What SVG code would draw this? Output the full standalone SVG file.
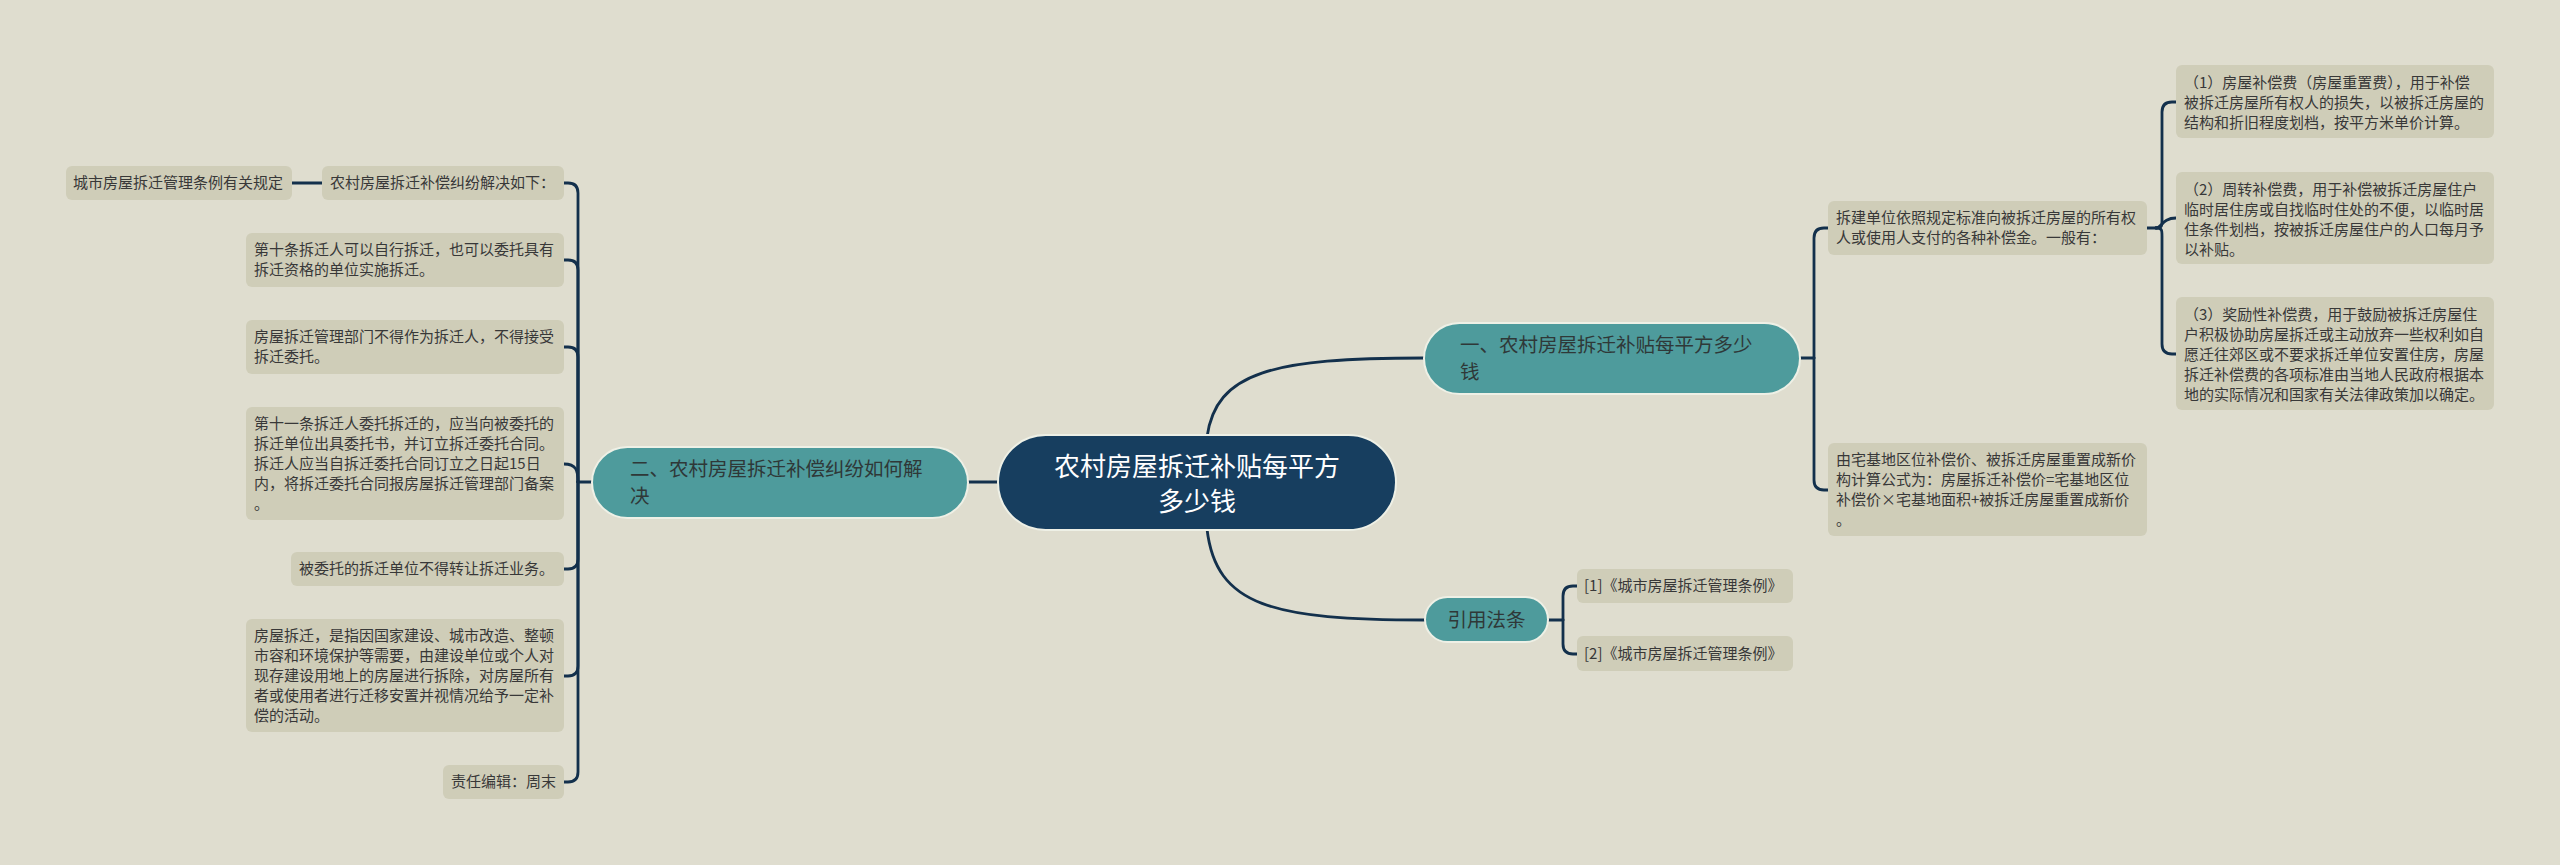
<svg xmlns="http://www.w3.org/2000/svg" width="2560" height="865" viewBox="0 0 2560 865">
<style>
.bg{fill:#dfddcf}
.leaf{fill:#cfcdb8}
.leaf-t{font-family:"Noto Sans CJK SC","Noto Sans",sans-serif;font-size:15px;fill:#383838}
.main{fill:#4e9b9c;stroke:#eef0e6;stroke-width:2}
.main-t{font-family:"Noto Sans CJK SC","Noto Sans",sans-serif;font-size:19.5px;fill:#2f3838}
.root{fill:#173e5f;stroke:#eef0e6;stroke-width:2}
.root-t{font-family:"Noto Sans CJK SC","Noto Sans",sans-serif;font-size:26px;fill:#ffffff;text-anchor:middle}
.ln{fill:none;stroke:#13304c;stroke-width:2.8;stroke-linecap:round}
</style>
<rect class="bg" x="0" y="0" width="2560" height="865"/>

<g id="connectors">
  <path class="ln" d="M 1207 437 C 1216 372, 1272 358, 1424 358"/>
  <path class="ln" d="M 1207 529 C 1216 606, 1272 620, 1425 620"/>
  <path class="ln" d="M 968 482 L 998 482"/>
  <path class="ln" d="M 592 482 L 578 482"/>
  <path class="ln" d="M 578 482 L 578 193 Q 578 183 568 183 L 564 183"/>
  <path class="ln" d="M 578 482 L 578 270 Q 578 260 568 260 L 564 260"/>
  <path class="ln" d="M 578 482 L 578 357 Q 578 347 568 347 L 564 347"/>
  <path class="ln" d="M 578 482 C 578 470, 576 464, 564 464"/>
  <path class="ln" d="M 578 482 L 578 559 Q 578 569 568 569 L 564 569"/>
  <path class="ln" d="M 578 482 L 578 666 Q 578 676 568 676 L 564 676"/>
  <path class="ln" d="M 578 482 L 578 772 Q 578 782 568 782 L 564 782"/>
  <path class="ln" d="M 292 183 L 322 183"/>
  <path class="ln" d="M 1800 358 L 1814 358"/>
  <path class="ln" d="M 1814 358 L 1814 238 Q 1814 228 1824 228 L 1828 228"/>
  <path class="ln" d="M 1814 358 L 1814 480 Q 1814 490 1824 490 L 1828 490"/>
  <path class="ln" d="M 2147 228 L 2156 228"/>
  <path class="ln" d="M 2156 228 C 2162 228, 2162 226, 2162 220 L 2162 112 Q 2162 102 2172 102 L 2176 102"/>
  <path class="ln" d="M 2156 228 C 2162 228, 2162 218, 2176 218"/>
  <path class="ln" d="M 2156 228 C 2162 228, 2162 230, 2162 236 L 2162 344 Q 2162 354 2172 354 L 2176 354"/>
  <path class="ln" d="M 1548 620 L 1563 620"/>
  <path class="ln" d="M 1563 620 L 1563 596 Q 1563 586 1573 586 L 1577 586"/>
  <path class="ln" d="M 1563 620 L 1563 644 Q 1563 654 1573 654 L 1577 654"/>
</g>

<g id="root">
  <rect class="root" x="998" y="435" width="398" height="95" rx="47.5"/>
  <text class="root-t" x="1197" y="476">农村房屋拆迁补贴每平方</text>
  <text class="root-t" x="1197" y="511">多少钱</text>
</g>

<g id="branch-left">
  <rect class="main" x="592" y="447" width="376" height="71" rx="35.5"/>
  <text class="main-t" x="630" y="476">二、农村房屋拆迁补偿纠纷如何解</text>
  <text class="main-t" x="630" y="503">决</text>
</g>

<g id="branch-right1">
  <rect class="main" x="1424" y="323" width="376" height="71" rx="35.5"/>
  <text class="main-t" x="1460" y="352">一、农村房屋拆迁补贴每平方多少</text>
  <text class="main-t" x="1460" y="379">钱</text>
</g>

<g id="branch-right2">
  <rect class="main" x="1425" y="597" width="123" height="45" rx="22.5"/>
  <text class="main-t" x="1486.5" y="627" text-anchor="middle">引用法条</text>
</g>

<g id="leaf-city-rule">
  <rect class="leaf" x="66" y="166" width="226" height="34" rx="6"/>
  <text class="leaf-t" x="73" y="188">城市房屋拆迁管理条例有关规定</text>
</g>
<g id="leaf-resolve">
  <rect class="leaf" x="322" y="166" width="242" height="34" rx="6"/>
  <text class="leaf-t" x="330" y="188">农村房屋拆迁补偿纠纷解决如下：</text>
</g>
<g id="leaf-art10">
  <rect class="leaf" x="246" y="233" width="318" height="54" rx="6"/>
  <text class="leaf-t" x="254" y="255">第十条拆迁人可以自行拆迁，也可以委托具有</text>
  <text class="leaf-t" x="254" y="275">拆迁资格的单位实施拆迁。</text>
</g>
<g id="leaf-dept">
  <rect class="leaf" x="246" y="320" width="318" height="54" rx="6"/>
  <text class="leaf-t" x="254" y="342">房屋拆迁管理部门不得作为拆迁人，不得接受</text>
  <text class="leaf-t" x="254" y="362">拆迁委托。</text>
</g>
<g id="leaf-art11">
  <rect class="leaf" x="246" y="407" width="318" height="113" rx="6"/>
  <text class="leaf-t" x="254" y="429">第十一条拆迁人委托拆迁的，应当向被委托的</text>
  <text class="leaf-t" x="254" y="449">拆迁单位出具委托书，并订立拆迁委托合同。</text>
  <text class="leaf-t" x="254" y="469">拆迁人应当自拆迁委托合同订立之日起15日</text>
  <text class="leaf-t" x="254" y="489">内，将拆迁委托合同报房屋拆迁管理部门备案</text>
  <text class="leaf-t" x="254" y="509">。</text>
</g>
<g id="leaf-transfer">
  <rect class="leaf" x="291" y="552" width="273" height="34" rx="6"/>
  <text class="leaf-t" x="299" y="574">被委托的拆迁单位不得转让拆迁业务。</text>
</g>
<g id="leaf-define">
  <rect class="leaf" x="246" y="619" width="318" height="113" rx="6"/>
  <text class="leaf-t" x="254" y="641">房屋拆迁，是指因国家建设、城市改造、整顿</text>
  <text class="leaf-t" x="254" y="661">市容和环境保护等需要，由建设单位或个人对</text>
  <text class="leaf-t" x="254" y="681">现存建设用地上的房屋进行拆除，对房屋所有</text>
  <text class="leaf-t" x="254" y="701">者或使用者进行迁移安置并视情况给予一定补</text>
  <text class="leaf-t" x="254" y="721">偿的活动。</text>
</g>
<g id="leaf-editor">
  <rect class="leaf" x="443" y="765" width="121" height="34" rx="6"/>
  <text class="leaf-t" x="451" y="787">责任编辑：周末</text>
</g>

<g id="leaf-pay">
  <rect class="leaf" x="1828" y="201" width="319" height="54" rx="6"/>
  <text class="leaf-t" x="1836" y="223">拆建单位依照规定标准向被拆迁房屋的所有权</text>
  <text class="leaf-t" x="1836" y="243">人或使用人支付的各种补偿金。一般有：</text>
</g>
<g id="leaf-formula">
  <rect class="leaf" x="1828" y="443" width="319" height="93" rx="6"/>
  <text class="leaf-t" x="1836" y="465">由宅基地区位补偿价、被拆迁房屋重置成新价</text>
  <text class="leaf-t" x="1836" y="485">构计算公式为：房屋拆迁补偿价=宅基地区位</text>
  <text class="leaf-t" x="1836" y="505">补偿价×宅基地面积+被拆迁房屋重置成新价</text>
  <text class="leaf-t" x="1836" y="525">。</text>
</g>
<g id="leaf-fee1">
  <rect class="leaf" x="2176" y="65" width="318" height="73" rx="6"/>
  <text class="leaf-t" x="2184" y="88">（1）房屋补偿费（房屋重置费），用于补偿</text>
  <text class="leaf-t" x="2184" y="108">被拆迁房屋所有权人的损失，以被拆迁房屋的</text>
  <text class="leaf-t" x="2184" y="128">结构和折旧程度划档，按平方米单价计算。</text>
</g>
<g id="leaf-fee2">
  <rect class="leaf" x="2176" y="172" width="318" height="92" rx="6"/>
  <text class="leaf-t" x="2184" y="195">（2）周转补偿费，用于补偿被拆迁房屋住户</text>
  <text class="leaf-t" x="2184" y="215">临时居住房或自找临时住处的不便，以临时居</text>
  <text class="leaf-t" x="2184" y="235">住条件划档，按被拆迁房屋住户的人口每月予</text>
  <text class="leaf-t" x="2184" y="255">以补贴。</text>
</g>
<g id="leaf-fee3">
  <rect class="leaf" x="2176" y="297" width="318" height="113" rx="6"/>
  <text class="leaf-t" x="2184" y="320">（3）奖励性补偿费，用于鼓励被拆迁房屋住</text>
  <text class="leaf-t" x="2184" y="340">户积极协助房屋拆迁或主动放弃一些权利如自</text>
  <text class="leaf-t" x="2184" y="360">愿迁往郊区或不要求拆迁单位安置住房，房屋</text>
  <text class="leaf-t" x="2184" y="380">拆迁补偿费的各项标准由当地人民政府根据本</text>
  <text class="leaf-t" x="2184" y="400">地的实际情况和国家有关法律政策加以确定。</text>
</g>
<g id="leaf-cite1">
  <rect class="leaf" x="1577" y="569" width="216" height="34" rx="6"/>
  <text class="leaf-t" x="1584" y="591">[1]《城市房屋拆迁管理条例》</text>
</g>
<g id="leaf-cite2">
  <rect class="leaf" x="1577" y="636" width="216" height="35" rx="6"/>
  <text class="leaf-t" x="1584" y="659">[2]《城市房屋拆迁管理条例》</text>
</g>
</svg>
